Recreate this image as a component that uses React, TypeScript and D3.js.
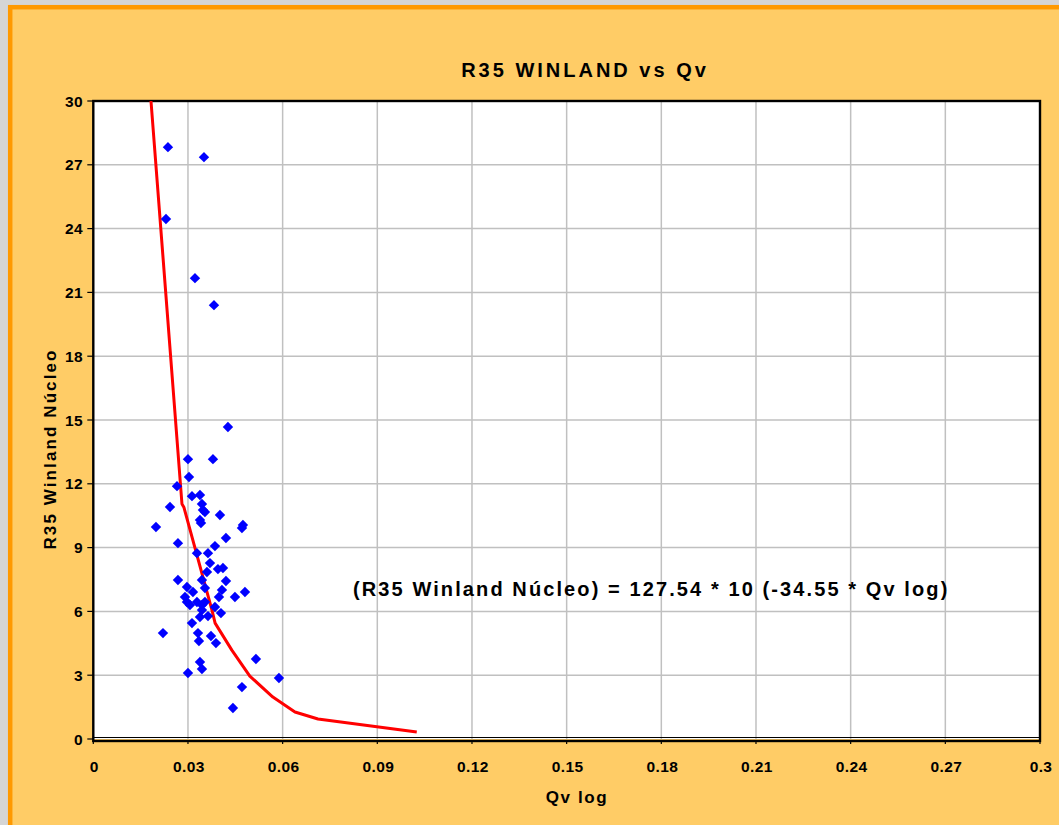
import React from "react";
import * as d3 from "d3";

const qv = [
  0.02366, 0.03507, 0.02303, 0.03222, 0.03824, 0.04267, 0.03, 0.03792, 0.03032, 0.02652,
  0.03127, 0.0338, 0.0243, 0.03443, 0.03475, 0.03538, 0.04014, 0.0338, 0.01986, 0.03412,
  0.04742, 0.04711, 0.04204, 0.02683, 0.03855, 0.03285, 0.03634, 0.03697, 0.03602, 0.0395,
  0.04109, 0.02683, 0.03443, 0.04204, 0.02968, 0.03538, 0.04077, 0.04806, 0.02905, 0.03158,
  0.04489, 0.03982, 0.03285, 0.03538, 0.03063, 0.03855, 0.02968, 0.03443, 0.03443, 0.0338,
  0.03634, 0.04045, 0.03127, 0.02208, 0.03317, 0.03729, 0.03348, 0.03887, 0.05154, 0.0338,
  0.03443, 0.03, 0.05883, 0.04711, 0.04425,
];
const r35 = [
  27.83, 27.36, 24.45, 21.67, 20.4, 14.67, 13.16, 13.16, 12.32, 11.89,
  11.42, 11.47, 10.91, 11.05, 10.77, 10.67, 10.53, 10.3, 9.97, 10.16,
  10.06, 9.92, 9.45, 9.21, 9.07, 8.74, 8.74, 8.27, 7.85, 7.99,
  8.04, 7.48, 7.48, 7.43, 7.15, 7.1, 7.01, 6.91, 6.68, 6.91,
  6.68, 6.68, 6.44, 6.44, 6.3, 6.21, 6.44, 6.3, 6.06, 5.74,
  5.78, 5.92, 5.45, 4.98, 4.98, 4.84, 4.61, 4.51, 3.76, 3.62,
  3.29, 3.1, 2.87, 2.44, 1.46,
];
const fitQv = [0.01828, 0.0281, 0.0287, 0.0376, 0.0386, 0.0439, 0.0496, 0.0569, 0.0639, 0.0712, 0.1025];
const fitR35 = [30.0, 11.05, 10.9, 6.06, 5.45, 4.18, 2.96, 1.97, 1.27, 0.94, 0.33];
const xTicks = [0, 0.03, 0.06, 0.09, 0.12, 0.15, 0.18, 0.21, 0.24, 0.27, 0.3];
const xTickLabels = ["0", "0.03", "0.06", "0.09", "0.12", "0.15", "0.18", "0.21", "0.24", "0.27", "0.3"];
const yTicks = [0, 3, 6, 9, 12, 15, 18, 21, 24, 27, 30];
const yTickLabels = ["0", "3", "6", "9", "12", "15", "18", "21", "24", "27", "30"];

const W = 1059, H = 825;
const L = 93.3, R = 1040, T = 101, B = 739;
const FONT = "'Liberation Sans', Arial, sans-serif";

export default function App() {
  const x = d3.scaleLinear().domain([0, 0.3]).range([L, R]);
  const y = d3.scaleLinear().domain([0, 30]).range([B, T]);
  const line = d3.line<number>().x((_, i) => x(fitQv[i])).y((_, i) => y(fitR35[i]));
  const r = 5.2;
  const diamond = `M0,${-r}L${r},0L0,${r}L${-r},0Z`;
  return (
    <svg width={W} height={H} style={{ position: "absolute", left: 0, top: 0 }}>
      <rect x={0} y={0} width={W} height={H} fill="#d5d5d5" />
      <rect x={10.2} y={7.2} width={W + 20} height={H + 20} fill="#FFCC66" stroke="#FF9900" strokeWidth={4.5} />
      <rect x={L} y={T} width={R - L} height={B - T} fill="#ffffff" />
      {xTicks.slice(1).map((t) => (
        <line key={"gx" + t} x1={x(t)} x2={x(t)} y1={T} y2={B} stroke="#c0c0c0" strokeWidth={1.5} />
      ))}
      {yTicks.slice(1).map((t) => (
        <line key={"gy" + t} x1={L} x2={R} y1={y(t)} y2={y(t)} stroke="#c0c0c0" strokeWidth={1.5} />
      ))}
      <line x1={L} x2={R} y1={B - 1.5} y2={B - 1.5} stroke="#000" strokeWidth={1.2} />
      <rect x={L} y={T} width={R - L} height={B - T + 2} fill="none" stroke="#000" strokeWidth={2.4} />
      {yTicks.map((t) => (
        <line key={"ty" + t} x1={L - 6} x2={L} y1={y(t)} y2={y(t)} stroke="#000" strokeWidth={1.2} />
      ))}
      {xTicks.map((t) => (
        <line key={"tx" + t} x1={x(t)} x2={x(t)} y1={B + 1} y2={B + 5} stroke="#000" strokeWidth={1.2} />
      ))}
      <path d={line(fitQv) || ""} fill="none" stroke="#ff0000" strokeWidth={3} strokeLinejoin="round" />
      {qv.map((v, i) => (
        <path key={"p" + i} d={diamond} transform={`translate(${x(v)},${y(r35[i])})`} fill="#0000ff" />
      ))}
      <g fontFamily={FONT} fontWeight="bold" fill="#000">
        {yTicks.map((t, i) => (
          <text key={"ly" + t} x={83} y={y(t) + 5.5} textAnchor="end" fontSize={15.5} letterSpacing={0.4}>
            {yTickLabels[i]}
          </text>
        ))}
        {xTicks.map((t, i) => (
          <text key={"lx" + t} x={x(t) + 1} y={772} textAnchor="middle" fontSize={15.5} letterSpacing={0.4}>
            {xTickLabels[i]}
          </text>
        ))}
        <text x={585} y={77} textAnchor="middle" fontSize={20} letterSpacing={3}>
          R35 WINLAND vs Qv
        </text>
        <text x={577} y={803} textAnchor="middle" fontSize={17} letterSpacing={1.6}>
          Qv log
        </text>
        <text transform="translate(56,449) rotate(-90)" textAnchor="middle" fontSize={17} letterSpacing={2.1}>
          R35 Winland Núcleo
        </text>
        <text x={353} y={596} fontSize={20} letterSpacing={2.1}>
          (R35 Winland Núcleo) = 127.54 * 10 (-34.55 * Qv log)
        </text>
      </g>
    </svg>
  );
}
